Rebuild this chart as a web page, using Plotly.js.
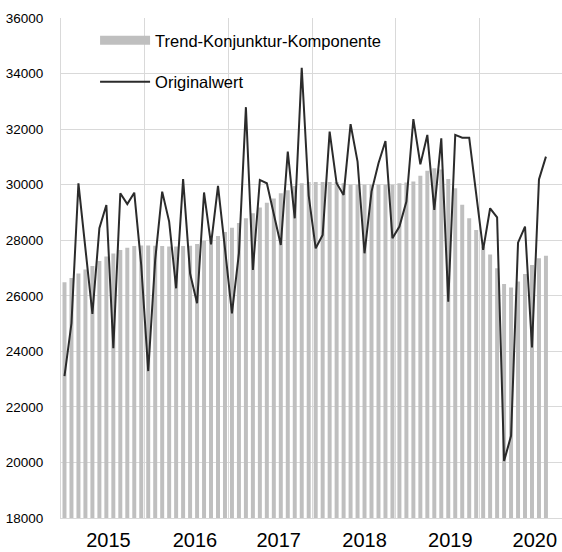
<!DOCTYPE html>
<html>
<head>
<meta charset="utf-8">
<script src="https://cdn.plot.ly/plotly-3.0.1.min.js"></script>
<style>
  body{margin:0;padding:0;background:#fff;}
  #chart{width:562px;height:552px;}
</style>
</head>
<body>
<div id="chart"></div>
<script>
// monthly values, Jan 2015 - Oct 2020
var trendKomponente=[26490,26640,26800,26950,27070,27250,27410,27520,27650,27730,27790,27810,
  27810,27800,27790,27770,27770,27790,27800,27860,27980,28030,28150,28300,
  28450,28620,28790,28970,29180,29350,29500,29690,29800,29950,30050,30100,
  30100,30100,30100,30100,30050,30000,30000,30000,30000,30000,30000,30000,
  30050,30080,30110,30320,30500,30590,30550,30200,29870,29280,28790,28370,
  27770,27490,26990,26420,26300,26510,26780,27110,27350,27440]

var originalwert=[23110,25010,30050,27600,25350,28430,29270,24110,29690,29300,29710,27100,
  23290,27300,29750,28670,26270,30200,26800,25730,29720,27850,29960,27700,
  25370,27530,32790,26930,30170,30050,28900,27830,31190,28790,34210,29600,
  27710,28190,31910,30050,29630,32180,30830,27530,29750,30770,31570,28070,
  28490,29390,32360,30730,31790,29090,31670,25790,31790,31690,31690,29600,
  27650,29150,28820,20050,20960,27910,28490,24140,30190,31010]

var years=["2015","2016","2017","2018","2019","2020"]
// where the year labels sit (month index) and where the year borders are
var yearLabelPos=[6.3,18.7,30.7,43.0,55.3,67.4]
var yearBorders=[11.5,23.5,35.5,47.5,59.5]

var months=trendKomponente.map((v,i)=>i)

var fontFam='"Liberation Sans Narrow","Arial Narrow","Liberation Sans",Arial,sans-serif'
var barGrey='#bfbfbf'

var traces=[
  {x:months,y:trendKomponente,type:"bar",name:"Trend-Konjunktur-Komponente",
   marker:{color:barGrey},showlegend:false,hoverinfo:"skip"},
  // legend entry for the bars (wide swatch like the original)
  {x:[null],y:[null],type:"scatter",mode:"lines",name:"Trend-Konjunktur-Komponente",
   line:{color:barGrey,width:9},legendgroup:"a"},
  {x:months,y:originalwert,type:"scatter",mode:"lines",name:"Originalwert",
   line:{color:"#2b2b2b",width:2},legendgroup:"b"}
]

var layout={
  width:562,height:552,
  margin:{l:61,r:0,t:18,b:34},
  paper_bgcolor:"#fff",plot_bgcolor:"#fff",
  font:{family:fontFam,color:"#000"},
  bargap:0.43,
  showlegend:true,
  legend:{x:0.068,xanchor:"left",y:0.99,yanchor:"top",bgcolor:"rgba(0,0,0,0)",
    font:{family:fontFam,size:16.5,color:"#000"},itemwidth:50,
    traceorder:"grouped",tracegroupgap:17},
  xaxis:{range:[-0.5,71.3],tickmode:"array",tickvals:yearLabelPos,ticktext:years,
    showgrid:false,zeroline:false,showline:true,linecolor:"#d9d9d9",linewidth:1,
    ticks:"",tickfont:{family:fontFam,size:20,color:"#000"},ticklabelstandoff:4,
    minor:{tickmode:"array",tickvals:yearBorders,showgrid:true,gridcolor:"#d9d9d9",gridwidth:1}},
  yaxis:{range:[18000,36000],dtick:2000,tickformat:"d",showgrid:true,gridcolor:"#d9d9d9",
    gridwidth:1,zeroline:false,showline:true,linecolor:"#d9d9d9",linewidth:1,
    ticks:"",tickfont:{family:fontFam,size:13.5,color:"#000"},ticklabelstandoff:14}
}

Plotly.newPlot("chart",traces,layout,{displayModeBar:false,staticPlot:true})
</script>
</body>
</html>
